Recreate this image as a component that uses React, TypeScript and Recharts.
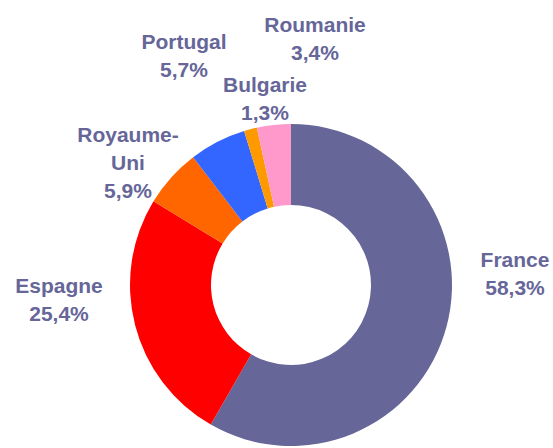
// Donut: share by country

import { Cell, Pie, PieChart } from "recharts";

const COUNTRIES = ["France", "Espagne", "Royaume-Uni", "Portugal", "Bulgarie", "Roumanie"];
const SHARES = [58.3, 25.4, 5.9, 5.7, 1.3, 3.4];
const COLORS = ["#666699", "#ff0000", "#ff6600", "#3366ff", "#ff9900", "#ff99cc"];

// label anchor (text centre, first baseline) relative to the pie centre
const LABEL_AT: [number, number][] = [
  [224, -18],
  [-232, 8],
  [-163, -143],
  [-107, -236],
  [-26, -193],
  [24, -253],
];

const TEXT = "#666699";
const CX = 291;
const CY = 285;

const data = COUNTRIES.map((name, i) => ({ name, value: SHARES[i] }));

function renderLabel(props: any) {
  const { cx, cy, index, name, value } = props;
  const [dx, dy] = LABEL_AT[index];
  const lines = [...name.replace("-", "-\n").split("\n"), `${value.toFixed(1).replace(".", ",")}%`];
  return (
    <text
      x={cx + dx}
      y={cy + dy}
      textAnchor="middle"
      fill={TEXT}
      fontSize={21}
      fontWeight="bold"
      fontFamily="'Liberation Sans', Arial, sans-serif"
    >
      {lines.map((l, i) => (
        <tspan key={i} x={cx + dx} dy={i === 0 ? 0 : 28}>
          {l}
        </tspan>
      ))}
    </text>
  );
}

export default function App() {
  return (
    <div style={{ position: "absolute", left: 0, top: 0, background: "#fff" }}>
      <PieChart width={553} height={448} margin={{ top: 0, right: 0, bottom: 0, left: 0 }}>
        <Pie
          data={data}
          dataKey="value"
          nameKey="name"
          cx={CX}
          cy={CY}
          innerRadius={80}
          outerRadius={161}
          startAngle={90}
          endAngle={-270}
          stroke="none"
          label={renderLabel}
          labelLine={false}
          isAnimationActive={false}
        >
          {data.map((d, i) => (
            <Cell key={d.name} fill={COLORS[i]} />
          ))}
        </Pie>
      </PieChart>
    </div>
  );
}
